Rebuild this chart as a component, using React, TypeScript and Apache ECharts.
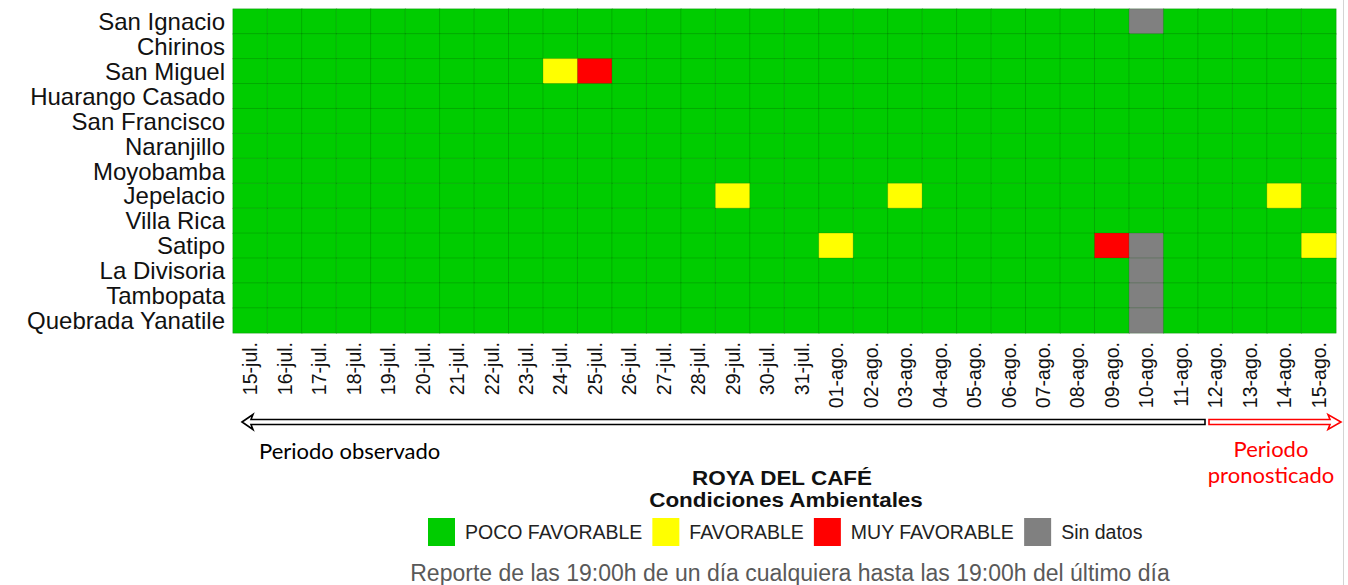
import React, { useEffect, useRef } from "react";
import * as echarts from "echarts";

const stations = [
  "San Ignacio",
  "Chirinos",
  "San Miguel",
  "Huarango Casado",
  "San Francisco",
  "Naranjillo",
  "Moyobamba",
  "Jepelacio",
  "Villa Rica",
  "Satipo",
  "La Divisoria",
  "Tambopata",
  "Quebrada Yanatile",
];

const dates = [
  "15-jul.", "16-jul.", "17-jul.", "18-jul.", "19-jul.", "20-jul.", "21-jul.", "22-jul.",
  "23-jul.", "24-jul.", "25-jul.", "26-jul.", "27-jul.", "28-jul.", "29-jul.", "30-jul.",
  "31-jul.", "01-ago.", "02-ago.", "03-ago.", "04-ago.", "05-ago.", "06-ago.", "07-ago.",
  "08-ago.", "09-ago.", "10-ago.", "11-ago.", "12-ago.", "13-ago.", "14-ago.", "15-ago.",
];

// 0 = POCO FAVORABLE, 1 = FAVORABLE, 2 = MUY FAVORABLE, 3 = Sin datos
//                    15-jul ............................................ 31-jul | 01-ago ................................ 15-ago
const sanIgnacio     = [0,0,0,0,0,0,0,0,0,0,0,0,0,0,0,0,0, 0,0,0,0,0,0,0,0,0,3,0,0,0,0,0];
const chirinos       = [0,0,0,0,0,0,0,0,0,0,0,0,0,0,0,0,0, 0,0,0,0,0,0,0,0,0,0,0,0,0,0,0];
const sanMiguel      = [0,0,0,0,0,0,0,0,0,1,2,0,0,0,0,0,0, 0,0,0,0,0,0,0,0,0,0,0,0,0,0,0];
const huarango       = [0,0,0,0,0,0,0,0,0,0,0,0,0,0,0,0,0, 0,0,0,0,0,0,0,0,0,0,0,0,0,0,0];
const sanFrancisco   = [0,0,0,0,0,0,0,0,0,0,0,0,0,0,0,0,0, 0,0,0,0,0,0,0,0,0,0,0,0,0,0,0];
const naranjillo     = [0,0,0,0,0,0,0,0,0,0,0,0,0,0,0,0,0, 0,0,0,0,0,0,0,0,0,0,0,0,0,0,0];
const moyobamba      = [0,0,0,0,0,0,0,0,0,0,0,0,0,0,0,0,0, 0,0,0,0,0,0,0,0,0,0,0,0,0,0,0];
const jepelacio      = [0,0,0,0,0,0,0,0,0,0,0,0,0,0,1,0,0, 0,0,1,0,0,0,0,0,0,0,0,0,0,1,0];
const villaRica      = [0,0,0,0,0,0,0,0,0,0,0,0,0,0,0,0,0, 0,0,0,0,0,0,0,0,0,0,0,0,0,0,0];
const satipo         = [0,0,0,0,0,0,0,0,0,0,0,0,0,0,0,0,0, 1,0,0,0,0,0,0,0,2,3,0,0,0,0,1];
const laDivisoria    = [0,0,0,0,0,0,0,0,0,0,0,0,0,0,0,0,0, 0,0,0,0,0,0,0,0,0,3,0,0,0,0,0];
const tambopata      = [0,0,0,0,0,0,0,0,0,0,0,0,0,0,0,0,0, 0,0,0,0,0,0,0,0,0,3,0,0,0,0,0];
const quebrada       = [0,0,0,0,0,0,0,0,0,0,0,0,0,0,0,0,0, 0,0,0,0,0,0,0,0,0,3,0,0,0,0,0];

const rows = [
  sanIgnacio, chirinos, sanMiguel, huarango, sanFrancisco, naranjillo, moyobamba,
  jepelacio, villaRica, satipo, laDivisoria, tambopata, quebrada,
];

const levelLabels = ["POCO FAVORABLE", "FAVORABLE", "MUY FAVORABLE", "Sin datos"];
const levelColors = ["#00cc00", "#ffff00", "#ff0000", "#808080"];

const FONT = "'Liberation Sans', Arial, sans-serif";
const CAL = "Lato, 'Open Sans', sans-serif";

export default function App() {
  const ref = useRef<HTMLDivElement>(null);

  useEffect(() => {
    if (!ref.current) return;
    const chart = echarts.init(ref.current, null, { renderer: "svg" });

    const data: number[][] = [];
    rows.forEach((row, y) => {
      row.forEach((v, x) => data.push([x, y, v]));
    });

    const option = {
      animation: false,
      backgroundColor: "#ffffff",
      grid: { left: 233, top: 9, width: 1103, height: 324 },
      xAxis: {
        type: "category",
        data: dates,
        axisLine: { show: false },
        axisTick: { show: false },
        splitLine: { show: false },
        axisLabel: {
          rotate: 90,
          interval: 0,
          fontSize: 19.5,
          color: "#111",
          fontFamily: FONT,
          margin: 9,
        },
      },
      yAxis: {
        type: "category",
        data: stations,
        inverse: true,
        axisLine: { show: false },
        axisTick: { show: false },
        splitLine: { show: false },
        axisLabel: {
          interval: 0,
          fontSize: 24,
          color: "#111",
          fontFamily: FONT,
          margin: 8,
        },
      },
      visualMap: {
        type: "piecewise",
        orient: "horizontal",
        left: 413,
        top: 503,
        itemWidth: 27,
        itemHeight: 28,
        itemGap: 10,
        textGap: 10,
        itemSymbol: "rect",
        selectedMode: false,
        dimension: 2,
        textStyle: { fontSize: 19.5, color: "#222", fontFamily: FONT },
        pieces: levelLabels.map((label, i) => ({
          value: i,
          label,
          color: levelColors[i],
        })),
      },
      series: [
        {
          type: "heatmap",
          data,
          itemStyle: { borderColor: "rgba(0,80,0,0.22)", borderWidth: 1 },
          emphasis: { disabled: true },
        },
      ],
      graphic: [
        {
          type: "line",
          shape: { x1: 1343.5, y1: 0, x2: 1343.5, y2: 585 },
          style: { stroke: "#d4d4d4", lineWidth: 1 },
        },
        {
          type: "polygon",
          shape: {
            points: [
              [242, 422], [253, 414.5], [251, 419.5], [1205, 419.5],
              [1205, 424.5], [251, 424.5], [253, 429.5],
            ],
          },
          style: { fill: "#ffffff", stroke: "#000000", lineWidth: 1.6 },
        },
        {
          type: "polygon",
          shape: {
            points: [
              [1209, 419.5], [1330, 419.5], [1328, 414.5], [1341, 422],
              [1328, 429.5], [1330, 424.5], [1209, 424.5],
            ],
          },
          style: { fill: "#ffffff", stroke: "#ff0000", lineWidth: 1.6 },
        },
        {
          type: "text",
          style: {
            x: 259, y: 450, text: "Periodo observado",
            fontSize: 22, fontFamily: CAL, fill: "#000",
            align: "left", verticalAlign: "middle",
          },
        },
        {
          type: "text",
          style: {
            x: 1271, y: 448, text: "Periodo",
            fontSize: 22, fontFamily: CAL, fill: "#ff0000",
            align: "center", verticalAlign: "middle",
          },
        },
        {
          type: "text",
          style: {
            x: 1271, y: 474, text: "pronosticado",
            fontSize: 22, fontFamily: CAL, fill: "#ff0000",
            align: "center", verticalAlign: "middle",
          },
        },
        {
          type: "text",
          x: 782,
          y: 478,
          scaleX: 1.07,
          style: {
            x: 0, y: 0, text: "ROYA DEL CAFÉ",
            fontSize: 21, fontWeight: "bold", fontFamily: FONT, fill: "#111",
            align: "center", verticalAlign: "middle",
          },
        },
        {
          type: "text",
          x: 786,
          y: 500,
          scaleX: 1.07,
          style: {
            x: 0, y: 0, text: "Condiciones Ambientales",
            fontSize: 21, fontWeight: "bold", fontFamily: FONT, fill: "#111",
            align: "center", verticalAlign: "middle",
          },
        },
        {
          type: "text",
          style: {
            x: 790, y: 573,
            text: "Reporte de las 19:00h de un día cualquiera hasta las 19:00h del último día",
            fontSize: 23, fontFamily: FONT, fill: "#595959",
            align: "center", verticalAlign: "middle",
          },
        },
      ],
    };

    chart.setOption(option as any);
    return () => chart.dispose();
  }, []);

  return (
    <div
      ref={ref}
      style={{ position: "absolute", left: 0, top: 0, width: 1348, height: 585 }}
    />
  );
}
